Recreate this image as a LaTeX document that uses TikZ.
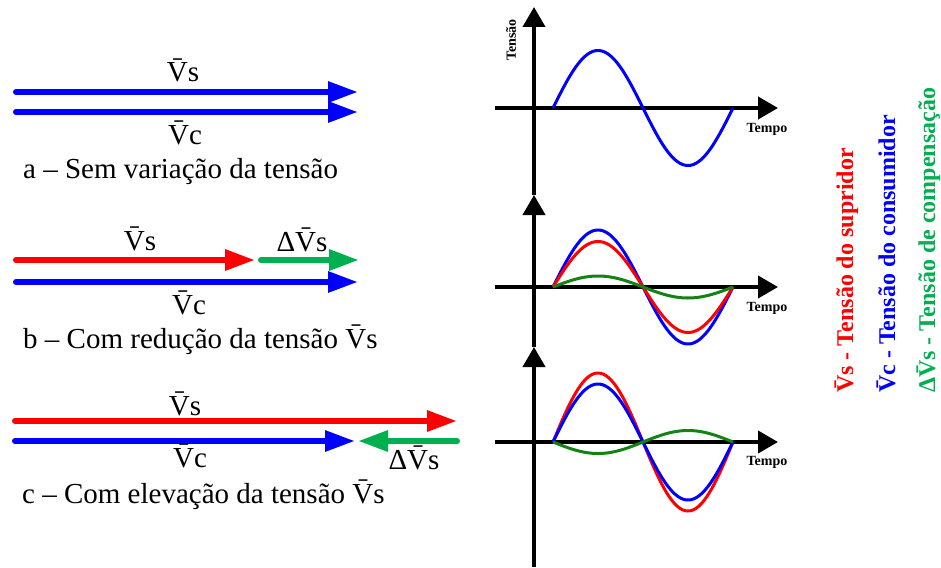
\documentclass[tikz,border=0pt]{standalone}
\usepackage{fontspec}
\setmainfont{Liberation Serif}
\usetikzlibrary{arrows.meta}
\definecolor{vblue}{RGB}{0,0,255}
\definecolor{vred}{RGB}{255,0,0}
\definecolor{vgreen}{RGB}{0,176,80}
\definecolor{wgreen}{RGB}{20,130,20}
\begin{document}
\begin{tikzpicture}[x=1pt,y=-1pt,
  vec/.style={line width=6pt, line cap=round, -{Triangle[length=30pt,width=20pt]}},
  axis/.style={line width=4pt, -{Triangle[length=20pt,width=22pt]}},
  wave/.style={line width=3pt, smooth, samples=120, domain=0:180},
  lbl/.style={font=\fontsize{29}{30}\selectfont, inner sep=0pt, anchor=base},
  capt/.style={font=\fontsize{29}{30}\selectfont, inner sep=0pt, anchor=base west},
  axl/.style={font=\bfseries\fontsize{14}{15}\selectfont, inner sep=0pt},
  leg/.style={font=\bfseries\fontsize{24}{25}\selectfont, inner sep=0pt, anchor=base west, rotate=90}
]
\useasboundingbox (0,0) rectangle (941,567);

% ---- panel a
\coordinate (a1s) at (16,92);  \coordinate (a1e) at (358,92);
\coordinate (a2s) at (16,112); \coordinate (a2e) at (358,112);
\draw[vec, vblue] (a1s) -- (a1e);
\draw[vec, vblue] (a2s) -- (a2e);
\node[lbl] (aVs) at (183,82) {\={V}s};
\node[lbl] (aVc) at (185,144) {\={V}c};
\node[capt] (acap) at (23,178) {a – Sem variação da tensão};

% ---- panel b
\coordinate (b1s) at (16,260);  \coordinate (b1e) at (255,260);
\coordinate (b2s) at (261,260); \coordinate (b2e) at (359,260);
\coordinate (b3s) at (16,282);  \coordinate (b3e) at (358,282);
\draw[vec, vred] (b1s) -- (b1e);
\draw[vec, vgreen] (b2s) -- (b2e);
\draw[vec, vblue] (b3s) -- (b3e);
\node[lbl] (bVs) at (140,250) {\={V}s};
\node[lbl] (bdVs) at (302,251) {Δ\={V}s};
\node[lbl] (bVc) at (189,314) {\={V}c};
\node[capt] (bcap) at (23,348) {b – Com redução da tensão \={V}s};

% ---- panel c
\coordinate (c1s) at (15,421);  \coordinate (c1e) at (457,421);
\coordinate (c2s) at (15,441);  \coordinate (c2e) at (355,441);
\coordinate (c3s) at (457,441); \coordinate (c3e) at (358,441);
\draw[vec, vred] (c1s) -- (c1e);
\draw[vec, vblue] (c2s) -- (c2e);
\draw[vec, vgreen] (c3s) -- (c3e);
\node[lbl] (cVs) at (185,415) {\={V}s};
\node[lbl] (cVc) at (190,467) {\={V}c};
\node[lbl] (cdVs) at (414,469) {Δ\={V}s};
\node[capt] (ccap) at (22,503) {c – Com elevação da tensão \={V}s};

% ---- axes
\coordinate (v0) at (534,567);
\coordinate (v3) at (534,347);
\coordinate (v2) at (534,195);
\coordinate (v1) at (534,7);
\draw[axis] (v0) -- (v3);
\draw[axis] (v3) -- (v2);
\draw[axis] (v2) -- (v1);
\coordinate (h1s) at (495,108); \coordinate (h1e) at (778,108);
\coordinate (h2s) at (495,287); \coordinate (h2e) at (778,287);
\coordinate (h3s) at (495,442); \coordinate (h3e) at (778,442);
\draw[axis] (h1s) -- (h1e);
\draw[axis] (h2s) -- (h2e);
\draw[axis] (h3s) -- (h3e);

% ---- waves
\draw[wave, vblue] plot ({553+\x},{108-57.5*sin(2*\x)});
\draw[wave, vblue] plot ({553+\x},{287-57*sin(2*\x)});
\draw[wave, vred] plot ({553+\x},{287-45.5*sin(2*\x)});
\draw[wave, wgreen] plot ({553+\x},{287-11*sin(2*\x)});
\draw[wave, vred] plot ({553+\x},{442-69*sin(2*\x)});
\draw[wave, vblue] plot ({553+\x},{442-58*sin(2*\x)});
\draw[wave, wgreen] plot ({553+\x},{442+11.5*sin(2*\x)});

% ---- axis labels
\node[axl, rotate=90] (ten) at (511,40) {Tensão};
\node[axl, anchor=base] (t1) at (767,132) {Tempo};
\node[axl, anchor=base] (t2) at (767,311) {Tempo};
\node[axl, anchor=base] (t3) at (767,465) {Tempo};

% ---- legend
\node[leg, text=vred] (l1) at (853,393) {\={V}s - Tensão do supridor};
\node[leg, text=vblue] (l2) at (895,393) {\={V}c - Tensão do consumidor};
\node[leg, text=vgreen] (l3) at (935,393) {Δ\={V}s - Tensão de compensação};
\end{tikzpicture}
\end{document}
